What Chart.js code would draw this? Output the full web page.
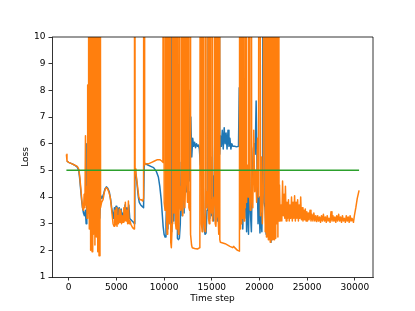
<!DOCTYPE html>
<html>
<head>
<meta charset="utf-8">
<script src="https://cdn.jsdelivr.net/npm/chart.js@4.4.1/dist/chart.umd.min.js"></script>
<style>
  html, body { margin: 0; padding: 0; background: #fff; }
</style>
</head>
<body>
<canvas id="perdas" width="415" height="311"></canvas>
<script>
const x_ticks = [0, 5000, 10000, 15000, 20000, 25000, 30000];
const y_ticks = [1, 2, 3, 4, 5, 6, 7, 8, 9, 10];

// blue run (values above 10 are clipped by the axis)
const blue_steps = [
  -200, 0, 300, 600, 900, 1050, 1150, 1250, 1350, 1450,
  1550, 1650, 1750, 1830, 1900, 1960, 2030, 2100, 2180, 2250,
  2320, 2400, 2480, 2560, 2650, 2750, 2850, 2950, 3050, 3150,
  3250, 3350, 3500, 3650, 3800, 3950, 4100, 4250, 4400, 4500,
  4600, 4700, 4800, 4880, 4960, 5040, 5120, 5200, 5300, 5400,
  5500, 5600, 5700, 5800, 5900, 6000, 6100, 6200, 6300, 6400,
  6500, 6650, 6800, 6880, 6930, 7000, 7100, 7200, 7300, 7400,
  7550, 7700, 7850, 7920, 8000, 8300, 8600, 8900, 9200, 9400,
  9550, 9700, 9800, 9900, 10000, 10100, 10200, 10300, 10400, 10500,
  10600, 10700, 10800, 10900, 11000, 11100, 11200, 11300, 11400, 11500,
  11600, 11700, 11800, 11900, 12000, 12100, 12200, 12300, 12400, 12500,
  12600, 12700, 12800, 12900, 13000, 13100, 13200, 13300, 13400, 13500,
  13600, 13700, 13800, 13900, 14000, 14100, 14200, 14300, 14400, 14500,
  14600, 14700, 14800, 14900, 15000, 15100, 15200, 15300, 15420, 15500,
  15600, 15730, 15830, 15900, 16000, 16100, 16200, 16300, 16400, 16500,
  16600, 16700, 16800, 16900, 17000, 17100, 17200, 17400, 17600, 17800,
  17880, 17950, 18050, 18150, 18250, 18350, 18450, 18550, 18650, 18750,
  18850, 18950, 19050, 19150, 19250, 19350, 19450, 19550, 19650, 19750,
  19850, 19950, 20050, 20150, 20250, 20330, 20400, 20480, 20580, 20700,
  20800, 20900, 21000, 21100, 21200, 21300, 21400, 21500, 21600
];
const blue_loss = [
  5.35, 5.3, 5.25, 5.2, 5.12, 5.0, 4.7, 4.3, 3.9, 3.6,
  3.4, 3.3, 3.5, 3.0, 6.0, 3.6, 7.5, 4.0, 9.0, 9.6,
  4.5, 8.5, 3.5, 6.0, 3.0, 5.0, 2.8, 4.5, 2.5, 4.0,
  3.2, 4.05, 3.95, 4.1, 4.3, 4.38, 4.33, 4.2, 3.9, 3.6,
  3.4, 3.2, 3.6, 3.25, 3.65, 3.3, 3.6, 3.3, 3.6, 3.2,
  3.55, 3.25, 3.4, 3.2, 3.7, 3.3, 3.6, 3.2, 3.7, 3.2,
  3.15, 3.1, 3.05, 3.0, 5.0, 4.95, 4.7, 4.35, 4.0, 3.8,
  3.7, 3.65, 3.6, 5.3, 5.25, 5.2, 5.15, 5.1, 4.95, 4.75,
  4.4, 3.9, 3.4, 2.9, 2.6, 2.5, 3.0, 4.2, 2.8, 5.5,
  3.2, 40, 2.7, 5.0, 3.1, 6.5, 3.0, 40, 2.45, 2.4,
  2.45, 3.0, 5.3, 3.3, 7.0, 3.4, 40, 4.2, 6.5, 4.0,
  8.0, 4.6, 7.0, 5.5, 6.2, 5.9, 6.05, 5.85, 6.0, 5.9,
  5.95, 5.8, 5.2, 6.4, 3.5, 4.5, 2.8, 2.6, 2.65, 3.5,
  5.0, 40, 3.2, 5.5, 3.3, 4.8, 3.1, 6.0, 40, 3.3,
  3.1, 40, 5.6, 6.3, 5.9, 6.5, 5.8, 6.6, 6.0, 6.4,
  5.8, 6.5, 5.9, 6.2, 5.8, 6.0, 5.9, 5.9, 5.88, 5.9,
  8.1, 5.5, 3.0, 5.9, 2.8, 4.6, 3.2, 5.5, 2.7, 4.2,
  2.6, 5.0, 3.4, 2.7, 4.8, 5.8, 6.0, 5.6, 7.6, 5.0,
  3.0, 4.0, 2.65, 3.4, 2.7, 4.5, 40, 3.8, 3.6, 2.6,
  3.1, 4.6, 3.6, 2.6, 2.3, 2.7, 3.7, 2.8, 3.0
];

// orange run
const orange_steps = [
  -240, -180, 0, 300, 600, 900, 1050, 1150, 1250, 1350,
  1450, 1550, 1620, 1700, 1760, 1820, 1880, 1930, 1990, 2040,
  2090, 2160, 2230, 2300, 2380, 2450, 2520, 2600, 2680, 2750,
  2830, 2900, 2980, 3050, 3130, 3180, 3280, 3340, 3450, 3600,
  3750, 3900, 4050, 4200, 4350, 4450, 4550, 4650, 4750, 4820,
  4900, 4980, 5060, 5140, 5220, 5300, 5380, 5460, 5540, 5620,
  5700, 5780, 5860, 5940, 6020, 6100, 6180, 6260, 6340, 6420,
  6550, 6700, 6850, 6900, 6960, 7050, 7150, 7250, 7350, 7450,
  7600, 7750, 7850, 7900, 7960, 8100, 8400, 8700, 9000, 9300,
  9550, 9750, 9880, 9950, 10010, 10100, 10150, 10200, 10260, 10330,
  10380, 10420, 10480, 10560, 10610, 10650, 10700, 10760, 10850, 10900,
  10960, 11040, 11100, 11150, 11200, 11260, 11310, 11350, 11420, 11500,
  11560, 11600, 11660, 11740, 11800, 11850, 11900, 11960, 12010, 12050,
  12110, 12180, 12250, 12300, 12370, 12450, 12500, 12550, 12600, 12680,
  12720, 12750, 12800, 12880, 12950, 13200, 13500, 13750, 13850, 13920,
  13990, 14050, 14100, 14160, 14220, 14300, 14350, 14410, 14480, 14550,
  14600, 14660, 14730, 14800, 14850, 14910, 14980, 15030, 15050, 15110,
  15180, 15250, 15300, 15360, 15430, 15500, 15550, 15610, 15670, 15730,
  15780, 15840, 15900, 16400, 16900, 17200, 17300, 17400, 17700, 17900,
  17960, 18020, 18065, 18130, 18200, 18250, 18310, 18380, 18450, 18520,
  18590, 18650, 18720, 18800, 18870, 18940, 19030, 19110, 19180, 19300,
  19400, 19500, 19600, 19700, 19800, 19900, 20000, 20100, 20200, 20300,
  20400, 20500, 20600, 20680, 20730, 20780, 20830, 20880, 20930, 20980,
  21030, 21080, 21130, 21180, 21230, 21280, 21330, 21380, 21430, 21480,
  21530, 21580, 21630, 21680, 21730, 21780, 21830, 21880, 21930, 21980,
  22050, 22100, 22180, 22260, 22340, 22420, 22500, 22580, 22650, 22720,
  22800, 22880, 22960, 23040, 23120, 23200, 23280, 23360, 23440, 23520,
  23600, 23680, 23760, 23840, 23920, 24000, 24080, 24160, 24240, 24320,
  24400, 24480, 24560, 24640, 24720, 24800, 24880, 24960, 25040, 25120,
  25200, 25300, 25400, 25500, 25600, 25700, 25800, 25900, 26000, 26100,
  26200, 26300, 26400, 26500, 26600, 26700, 26800, 26900, 27000, 27100,
  27200, 27300, 27400, 27500, 27600, 27700, 27800, 27900, 28000, 28100,
  28200, 28300, 28400, 28500, 28600, 28700, 28800, 28900, 29000, 29100,
  29200, 29300, 29400, 29500, 29600, 29700, 29850, 29950, 30100, 30250,
  30440
];
const orange_loss = [
  5.6, 5.35, 5.3, 5.25, 5.2, 5.15, 5.05, 4.8, 4.4, 4.0,
  3.6, 3.5, 4.1, 3.6, 6.3, 3.7, 4.4, 3.2, 8.2, 3.4,
  40, 2.8, 40, 2.0, 40, 1.95, 40, 2.6, 40, 2.2,
  40, 2.5, 40, 1.95, 40, 1.8, 40, 3.6, 3.8, 3.9,
  4.2, 4.35, 4.32, 4.2, 4.0, 3.7, 3.35, 3.0, 2.9, 3.5,
  2.95, 3.6, 2.9, 3.3, 3.0, 3.55, 3.05, 3.5, 3.0, 3.3,
  3.05, 3.6, 3.1, 3.8, 3.1, 3.5, 3.0, 3.85, 3.0, 3.1,
  2.95, 2.85, 2.8, 40, 5.05, 4.9, 4.6, 4.3, 4.0, 3.9,
  3.9, 3.85, 3.95, 40, 5.2, 5.25, 5.25, 5.3, 5.35, 5.4,
  5.4, 5.35, 5.3, 40, 3.8, 3.5, 4.2, 40, 3.0, 2.6,
  3.4, 40, 3.4, 3.0, 3.6, 40, 2.3, 2.1, 3.0, 40,
  3.6, 3.4, 4.0, 40, 3.0, 2.8, 3.5, 40, 3.3, 2.6,
  3.5, 40, 3.8, 3.5, 4.4, 40, 3.6, 3.3, 4.0, 40,
  4.6, 3.6, 4.5, 40, 5.0, 3.8, 4.4, 40, 3.6, 3.5,
  4.2, 40, 2.6, 2.2, 2.1, 2.07, 2.05, 2.1, 40, 3.0,
  2.7, 3.3, 40, 3.4, 3.0, 2.7, 40, 3.8, 3.6, 4.2,
  40, 3.2, 3.0, 3.6, 40, 3.5, 3.4, 3.9, 40, 3.1,
  3.6, 4.0, 40, 3.0, 2.9, 3.4, 40, 3.3, 3.2, 2.6,
  40, 2.4, 2.3, 2.25, 2.15, 2.1, 2.15, 2.1, 2.0, 1.97,
  40, 2.8, 40, 3.0, 5.5, 3.2, 40, 3.1, 4.5, 3.6,
  40, 3.8, 5.2, 4.0, 40, 4.3, 3.5, 40, 4.4, 3.6,
  6.5, 4.2, 5.0, 3.8, 6.2, 4.0, 40, 3.3, 5.5, 3.0,
  4.2, 40, 2.7, 40, 2.5, 40, 3.0, 40, 2.4, 40,
  2.8, 40, 2.3, 40, 3.1, 40, 2.4, 40, 2.6, 40,
  2.4, 40, 2.9, 40, 2.45, 40, 3.0, 40, 2.5, 40,
  3.1, 4.45, 3.1, 3.7, 3.1, 4.6, 3.3, 4.1, 3.2, 4.4,
  3.1, 3.8, 3.2, 3.9, 3.1, 3.7, 3.2, 4.0, 3.1, 3.8,
  3.2, 4.05, 3.1, 3.8, 3.2, 3.9, 3.1, 3.7, 3.2, 4.0,
  3.15, 3.6, 3.1, 3.5, 3.15, 3.55, 3.1, 3.45, 3.1, 3.4,
  3.15, 3.5, 3.1, 3.35, 3.1, 3.4, 3.1, 3.3, 3.08, 3.3,
  3.1, 3.25, 3.05, 3.3, 3.1, 3.35, 3.1, 3.25, 3.05, 3.3,
  3.1, 3.2, 3.05, 3.45, 3.1, 3.3, 3.1, 3.25, 3.05, 3.3,
  3.1, 3.35, 3.1, 3.25, 3.05, 3.3, 3.1, 3.2, 3.05, 3.3,
  3.1, 3.25, 3.05, 3.3, 3.1, 3.2, 3.05, 3.3, 3.6, 3.95,
  4.25
];

// green reference line
const green_steps = [-240, 30440];
const green_loss = [5, 5];

const pontos = (xs, ys) => xs.map((x, i) => ({x: x, y: ys[i]}));

const fonte = {family: 'DejaVu Sans', size: 9};

const moldura = {
    id: 'moldura',
    afterDraw: (chart) => {
        const {ctx, chartArea} = chart;
        ctx.save();
        ctx.strokeStyle = '#000';
        ctx.lineWidth = 0.8;
        ctx.beginPath();
        ctx.moveTo(chartArea.left, chartArea.top);
        ctx.lineTo(chartArea.right, chartArea.top);
        ctx.lineTo(chartArea.right, chartArea.bottom);
        ctx.stroke();
        ctx.restore();
    }
};

const linha = (dados, cor) => ({
    data: dados,
    borderColor: cor,
    borderWidth: 1.5,
    pointRadius: 0,
    tension: 0,
    borderJoinStyle: 'round',
    fill: false,
});

new Chart(document.getElementById('perdas'), {
    type: 'line',
    data: {
        datasets: [
            linha(pontos(green_steps, green_loss), '#2ca02c'),
            linha(pontos(orange_steps, orange_loss), '#ff7f0e'),
            linha(pontos(blue_steps, blue_loss), '#1f77b4'),
        ]
    },
    plugins: [moldura],
    options: {
        responsive: false,
        animation: false,
        events: [],
        layout: {padding: {top: 37, right: 42, bottom: 0, left: 0}},
        plugins: {legend: {display: false}, tooltip: {enabled: false}},
        scales: {
            x: {
                type: 'linear',
                min: -1750,
                max: 31900,
                afterBuildTicks: (axis) => { axis.ticks = x_ticks.map(v => ({value: v})); },
                afterFit: (axis) => { axis.height = 34; },
                grid: {drawOnChartArea: false, drawTicks: true, tickLength: 3.5, color: '#000', lineWidth: 0.8},
                border: {display: true, color: '#000', width: 0.8},
                ticks: {font: fonte, color: '#000', padding: 2, maxRotation: 0, autoSkip: false, callback: (v) => String(v)},
                title: {display: true, text: 'Time step', font: fonte, color: '#000', padding: {top: 0, bottom: 7}},
            },
            y: {
                type: 'linear',
                min: 1,
                max: 10,
                afterBuildTicks: (axis) => { axis.ticks = y_ticks.map(v => ({value: v})); },
                afterFit: (axis) => { axis.width = 52; },
                grid: {drawOnChartArea: false, drawTicks: true, tickLength: 3.5, color: '#000', lineWidth: 0.8},
                border: {display: true, color: '#000', width: 0.8},
                ticks: {font: fonte, color: '#000', padding: 3, callback: (v) => String(v)},
                title: {display: true, text: 'Loss', font: fonte, color: '#000', padding: {top: 20, bottom: 0}},
            }
        }
    }
});
</script>
</body>
</html>
